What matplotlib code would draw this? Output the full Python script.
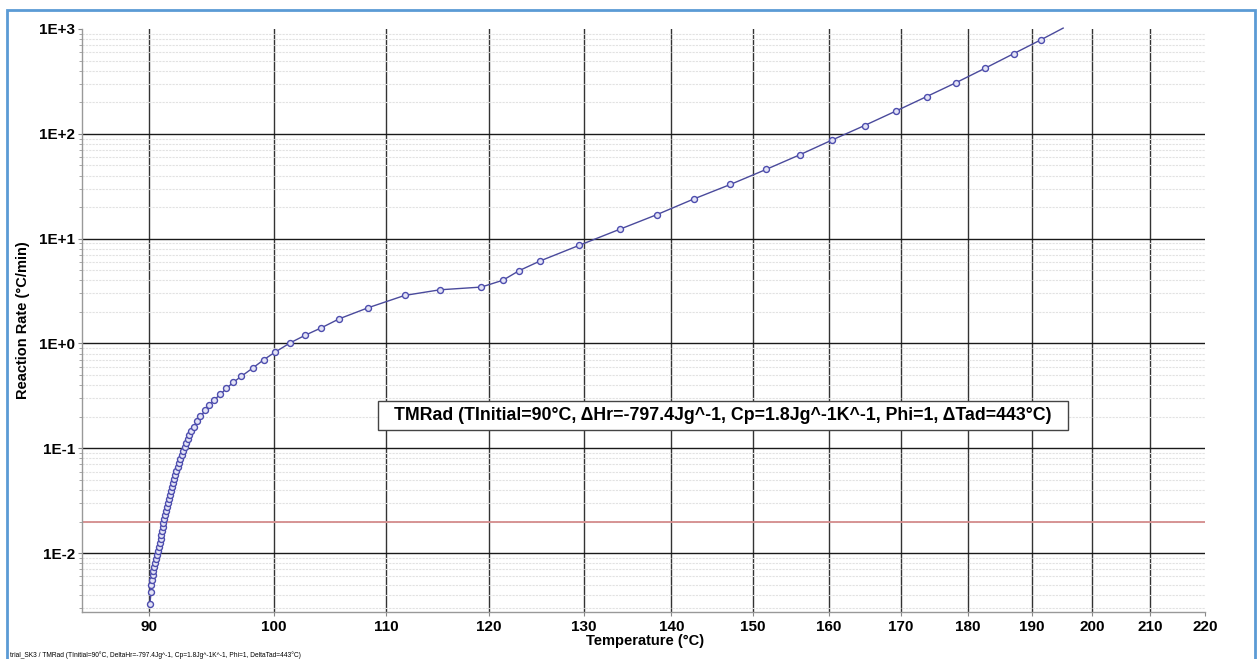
import matplotlib
matplotlib.use('Agg')
import matplotlib.pyplot as plt
from matplotlib.patches import Rectangle
from matplotlib.ticker import FixedLocator, NullFormatter

plt.rcParams['font.family'] = ['Liberation Sans', 'DejaVu Sans']

# ---- data ----
temperature = [90.03, 90.12, 90.15, 90.19, 90.23, 90.27, 90.33, 90.40, 90.47, 90.56,
               90.64, 90.71, 90.78, 90.85, 90.90, 90.96, 91.01, 91.07, 91.13, 91.21,
               91.29, 91.37, 91.44, 91.52, 91.59, 91.67, 91.75, 91.83, 91.91, 92.00,
               92.08, 92.18, 92.28, 92.39, 92.49, 92.60, 92.71, 92.83, 92.96, 93.07,
               93.18, 93.44, 93.71, 93.97, 94.37, 94.69, 95.09, 95.57, 96.06, 96.61,
               97.27, 98.26, 99.15, 100.06, 101.4, 102.7, 104.1, 105.7, 108.3, 111.7,
               115.1, 119.2, 121.4, 123.1, 125.3, 129.5, 134.0, 138.3, 142.7, 147.2,
               151.7, 156.1, 160.4, 164.9, 169.3, 173.8, 178.2, 182.6, 187.1, 191.5]
rate = [0.00327, 0.00425, 0.00496, 0.00553, 0.00617, 0.00674, 0.00736, 0.00803, 0.00877, 0.00957,
        0.0104, 0.0114, 0.0125, 0.0136, 0.0148, 0.0162, 0.0177, 0.0193, 0.0211, 0.0230,
        0.0251, 0.0274, 0.0299, 0.0327, 0.0357, 0.0390, 0.0425, 0.0464, 0.0507, 0.0553,
        0.0604, 0.0659, 0.0720, 0.0786, 0.0858, 0.0936, 0.1022, 0.1116, 0.1218, 0.1330,
        0.1452, 0.1595, 0.182, 0.2017, 0.230, 0.257, 0.291, 0.327, 0.373, 0.425,
        0.485, 0.587, 0.70, 0.821, 1.015, 1.2, 1.41, 1.72, 2.19, 2.87,
        3.25, 3.45, 4.01, 4.96, 6.13, 8.63, 12.26, 16.93, 23.9, 32.9,
        45.7, 63.1, 87.1, 120, 164.5, 226.6, 308, 422, 582, 791]
line_end_temperature = [191.5, 195.1]
line_end_rate = [791, 1020]

threshold_rate = 0.02

x_ticks = [90, 100, 110, 120, 130, 140, 150, 160, 170, 180, 190, 200, 210, 220]
x_tick_labels = [str(t) for t in x_ticks]
y_ticks = [1e-2, 1e-1, 1e0, 1e1, 1e2, 1e3]
y_tick_labels = ['1E-2', '1E-1', '1E+0', '1E+1', '1E+2', '1E+3']

annotation = ('TMRad (TInitial=90\u00b0C, \u0394Hr=-797.4Jg^-1, Cp=1.8Jg^-1K^-1, '
              'Phi=1, \u0394Tad=443\u00b0C)')
footnote = ('trial_SK3 / TMRad (TInitial=90\u00b0C, DeltaHr=-797.4Jg^-1, '
            'Cp=1.8Jg^-1K^-1, Phi=1, DeltaTad=443\u00b0C)')

W, H = 1257, 659
fig = plt.figure(figsize=(W / 100, H / 100), dpi=100)
ax = fig.add_axes([82 / W, 1 - 612 / H, (1205 - 82) / W, (612 - 29) / H])
ax.set_xscale('log')
ax.set_yscale('log')
ax.set_xlim(85, 220)
ax.set_ylim(0.00274, 1000)

# grid
ax.yaxis.set_minor_locator(FixedLocator([m * 10.0 ** e for e in range(-3, 3) for m in range(2, 10)]))
ax.yaxis.set_minor_formatter(NullFormatter())
ax.grid(False)
ax.yaxis.grid(True, which='minor', color='#e2e2e2', linestyle=(0, (2, 1)), linewidth=0.8)
for t in x_ticks[:-1]:
    ax.axvline(t, color='#333333', linewidth=1.0, zorder=1)
for yv in y_ticks[:-1]:
    ax.axhline(yv, color='#1a1a1a', linewidth=1.0, zorder=1)

ax.axhline(threshold_rate, color='#d48c8c', linewidth=1.3, zorder=2)

# curve
ax.plot(line_end_temperature, line_end_rate, color='#4a4a9c', linewidth=1.0, zorder=3,
        clip_on=False)
ax.plot(temperature, rate, color='#4a4a9c', linewidth=1.0, marker='o', markersize=4.3,
        markerfacecolor='#e4e4f6', markeredgecolor='#4d4dae', markeredgewidth=1.0, zorder=4)

# ticks
ax.xaxis.set_major_locator(FixedLocator(x_ticks))
ax.xaxis.set_minor_locator(FixedLocator([]))
ax.set_xticklabels(x_tick_labels, fontsize=11, fontweight='bold')
ax.yaxis.set_major_locator(FixedLocator(y_ticks))
ax.set_yticklabels(y_tick_labels, fontsize=11, fontweight='bold')
ax.tick_params(axis='x', which='major', length=3, width=0.8, color='#888888', pad=3)
ax.tick_params(axis='y', which='major', length=3, width=0.8, color='#888888', pad=2)
ax.tick_params(axis='y', which='minor', length=2, width=0.6, color='#999999')

for s in ['top', 'right']:
    ax.spines[s].set_visible(False)
for s in ['left', 'bottom']:
    ax.spines[s].set_color('#999999')
    ax.spines[s].set_linewidth(1.0)

# annotation box
ax.add_patch(Rectangle((0.2636, 0.3122), 0.6144, 0.0497, transform=ax.transAxes,
                       fc='white', ec='#444444', lw=1.0, zorder=5))
ax.text(0.2636 + 0.6144 / 2, 0.3122 + 0.0497 / 2, annotation, transform=ax.transAxes,
        ha='center', va='center', fontsize=12.8, fontweight='bold', zorder=6)

# axis labels
fig.text(645 / W, 1 - 641 / H, 'Temperature (\u00b0C)', ha='center', va='center',
         fontsize=10.5, fontweight='bold')
fig.text(23 / W, 1 - 320 / H, 'Reaction Rate (\u00b0C/min)', ha='center', va='center',
         rotation=90, fontsize=10.5, fontweight='bold')

fig.text(10 / W, 1 - 655 / H, footnote, ha='left', va='center', fontsize=4.8)

# outer blue frame
fig.patches.append(Rectangle((7 / W, -0.05), (1255 - 7) / W, (1 - 10 / H) + 0.05,
                             transform=fig.transFigure, fill=False, ec='#5b9bd5', lw=2.0))

fig.savefig('out.png', dpi=100)
